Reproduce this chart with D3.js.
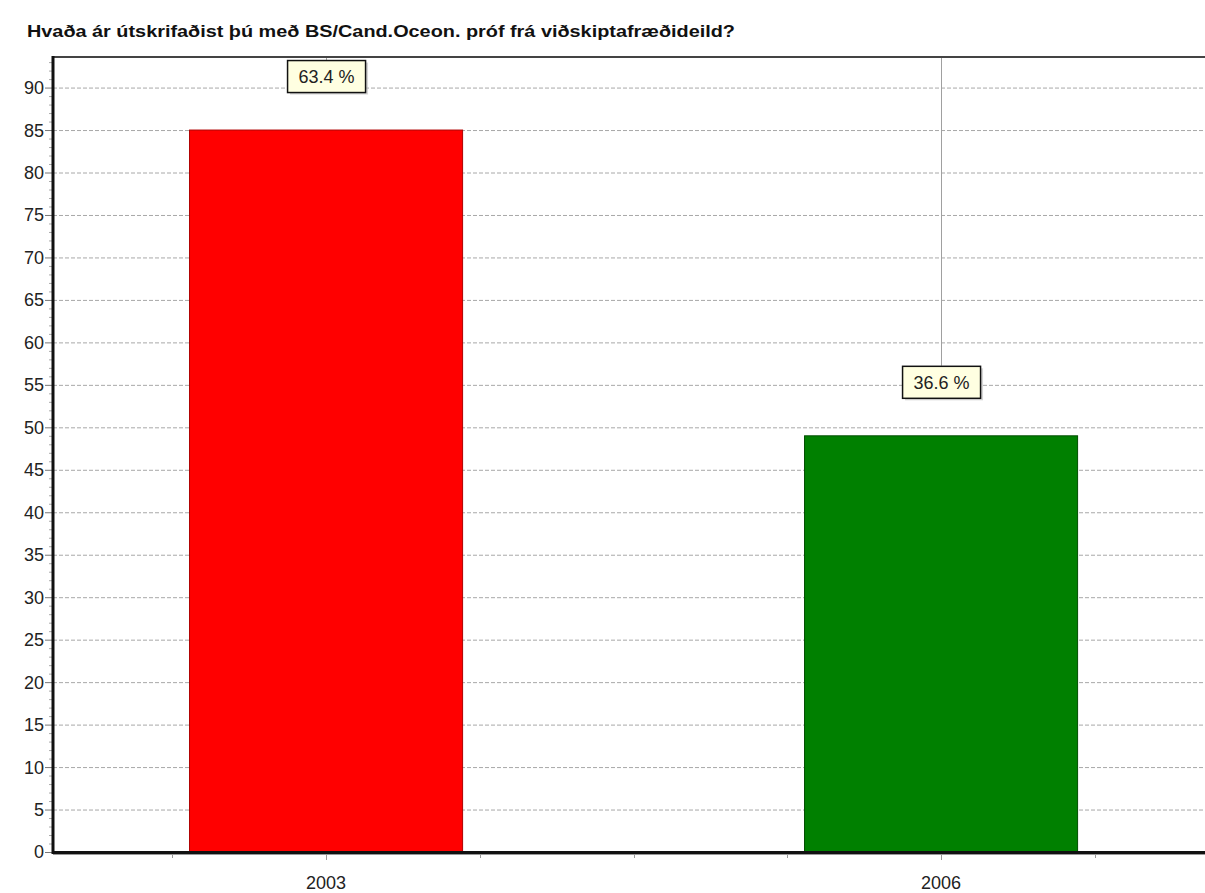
<!DOCTYPE html>
<html><head><meta charset="utf-8">
<script src="https://cdn.jsdelivr.net/npm/d3@7"></script>
<style>body{margin:0;background:#fff}svg{display:block}</style>
</head><body>
<svg id="c" width="1205" height="893"></svg>
<script>
const title = "Hvaða ár útskrifaðist þú með BS/Cand.Oceon. próf frá viðskiptafræðideild?";
const categories = ["2003", "2006"];
const values = [85, 49];
const percentLabels = ["63.4 %", "36.6 %"];
const colors = ["#ff0000", "#008000"];
const strokes = ["#b00000", "#004d00"];
const yTicks = [0,5,10,15,20,25,30,35,40,45,50,55,60,65,70,75,80,85,90];

const svg = d3.select("#c");
const L = 53, T = 57, B = 852;
const x = d3.scaleLinear().domain([1 - 0.444, 2 + 0.444]).range([L, L + 1.888 * 615]);
const y = d3.scaleLinear().domain([0, 93.6]).range([B, T]);
const barHalf = 0.222;
const labOff = 70;

svg.append("text").attr("x", 27).attr("y", 37).text(title)
  .attr("font-family", "Liberation Sans, Arial, sans-serif").attr("font-weight", "bold")
  .attr("font-size", 16.5).attr("fill", "#111").attr("textLength", 708).attr("lengthAdjust", "spacingAndGlyphs");

// horizontal grid
svg.append("g").selectAll("line").data(yTicks.filter(d => d > 0)).join("line")
  .attr("x1", L).attr("x2", 1205).attr("y1", d => y(d) + 0.5).attr("y2", d => y(d) + 0.5)
  .attr("stroke", "#a8a8a8").attr("stroke-width", 1).attr("stroke-dasharray", "4,2");

// vertical grid at categories (visible above labels)
svg.append("g").selectAll("line").data(values).join("line")
  .attr("x1", (d, i) => Math.round(x(i + 1)) + 0.5).attr("x2", (d, i) => Math.round(x(i + 1)) + 0.5)
  .attr("y1", T).attr("y2", d => y(d) - labOff).attr("stroke", "#a0a0a0").attr("stroke-width", 1);

// bars
svg.append("g").selectAll("rect").data(values).join("rect")
  .attr("x", (d, i) => x(i + 1 - barHalf)).attr("width", (d, i) => x(i + 1 + barHalf) - x(i + 1 - barHalf))
  .attr("y", d => y(d)).attr("height", d => B - y(d))
  .attr("fill", (d, i) => colors[i]).attr("stroke", (d, i) => strokes[i]).attr("stroke-width", 1);

// y axis ticks
const yMinor = d3.range(0, 94, 1);
svg.append("g").selectAll("line").data(yMinor).join("line")
  .attr("x1", d => d % 5 === 0 ? L - 8 : L - 4).attr("x2", L)
  .attr("y1", d => y(d) + 0.5).attr("y2", d => y(d) + 0.5)
  .attr("stroke", d => d % 5 === 0 ? "#777" : "#aaa").attr("stroke-width", 1);

// y tick labels
svg.append("g").selectAll("text").data(yTicks).join("text")
  .attr("x", 44).attr("y", d => y(d)).attr("dy", "0.36em").attr("text-anchor", "end")
  .attr("font-family", "Liberation Sans, Arial, sans-serif").attr("font-size", 18).attr("fill", "#222")
  .text(d => d);

// x ticks
const xMinor = d3.range(0.75, 2.3, 0.25);
svg.append("g").selectAll("line").data(xMinor).join("line")
  .attr("x1", d => Math.round(x(d)) + 0.5).attr("x2", d => Math.round(x(d)) + 0.5)
  .attr("y1", B + 2).attr("y2", d => Number.isInteger(d) ? B + 8 : B + 6)
  .attr("stroke", "#999").attr("stroke-width", 1);

svg.append("g").selectAll("text").data(categories).join("text")
  .attr("x", (d, i) => x(i + 1)).attr("y", 889).attr("text-anchor", "middle")
  .attr("font-family", "Liberation Sans, Arial, sans-serif").attr("font-size", 18).attr("fill", "#222")
  .text(d => d);

// frame
svg.append("line").attr("x1", L).attr("x2", 1205).attr("y1", T).attr("y2", T).attr("stroke", "#444").attr("stroke-width", 2);
svg.append("line").attr("x1", L).attr("x2", L).attr("y1", T - 1).attr("y2", B + 2).attr("stroke", "#111").attr("stroke-width", 3);
svg.append("line").attr("x1", L).attr("x2", 1205).attr("y1", B + 0.5).attr("y2", B + 0.5).attr("stroke", "#111").attr("stroke-width", 3);
svg.append("line").attr("x1", L).attr("x2", 1205).attr("y1", B + 2.5).attr("y2", B + 2.5).attr("stroke", "#999").attr("stroke-width", 1);

// labels
const lab = svg.append("g").selectAll("g").data(values).join("g")
  .attr("transform", (d, i) => `translate(${x(i + 1)},${y(d) - labOff})`);
lab.append("rect").attr("x", -36).attr("y", 2.5).attr("width", 78).attr("height", 32).attr("fill", "#bbb").attr("opacity", 0.6);
lab.append("rect").attr("x", -38.5).attr("y", 0.5).attr("width", 78).attr("height", 32)
  .attr("fill", "#ffffe1").attr("stroke", "#111").attr("stroke-width", 1.5);
lab.append("text").attr("x", 0.5).attr("y", 16.5).attr("dy", "0.36em").attr("text-anchor", "middle")
  .attr("font-family", "Liberation Sans, Arial, sans-serif").attr("font-size", 18).attr("fill", "#222")
  .text((d, i) => percentLabels[i]);
</script>
</body></html>
